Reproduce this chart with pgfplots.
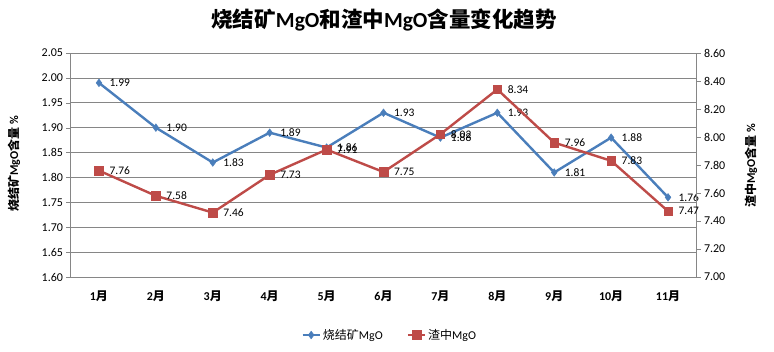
\documentclass[border=0pt]{standalone}
\usepackage{pgfplots}
\pgfplotsset{compat=1.18}
\usepackage{fontspec}
\setmainfont{Carlito}
\newfontfamily\cjk{Noto Sans CJK SC}
\definecolor{sblue}{HTML}{4A7EBB}
\definecolor{sred}{HTML}{BE4B48}
\definecolor{gridc}{HTML}{868686}
\pgfplotstableread{
x y
1 1.99
2 1.90
3 1.83
4 1.89
5 1.86
6 1.93
7 1.88
8 1.93
9 1.81
10 1.88
11 1.76
}\sinter
\pgfplotstableread{
x y
1 7.76
2 7.58
3 7.46
4 7.73
5 7.91
6 7.75
7 8.02
8 8.34
9 7.96
10 7.83
11 7.47
}\slag
\begin{document}
\begin{tikzpicture}[x=1pt,y=1pt]
\useasboundingbox (-70.5,-74) rectangle (703.5,277);
\pgfplotsset{
  base/.style={
    scale only axis, width=626pt, height=224pt,
    at={(0,0)}, anchor=south west,
    xmin=0.5, xmax=11.5,
    /pgf/number format/assume math mode=true,
    ticklabel style={font=\fontsize{12}{14}\selectfont, text=black},
    axis line style={gridc},
    major tick style={gridc},
    tick align=outside,
    major tick length=4pt,
    nodes near coords={\pgfmathprintnumber[fixed,precision=2,fixed zerofill]{\pgfplotspointmeta}},
    nodes near coords style={anchor=west, xshift=7pt, font=\fontsize{11.5}{13}\selectfont, text=black},
    point meta=y,
  }
}
\begin{axis}[base,
  ymin=1.6, ymax=2.05,
  ytick={1.60,1.65,1.70,1.75,1.80,1.85,1.90,1.95,2.00,2.05},
  yticklabel style={/pgf/number format/.cd,fixed,precision=2,fixed zerofill},
  axis y line*=left,
  axis x line*=bottom,
  ymajorgrids, grid style={gridc, line width=0.6pt},
  xtick={1,...,11},
  xticklabels={1{\cjk 月},2{\cjk 月},3{\cjk 月},4{\cjk 月},5{\cjk 月},6{\cjk 月},7{\cjk 月},8{\cjk 月},9{\cjk 月},10{\cjk 月},11{\cjk 月}},
  xticklabel style={font=\fontsize{12}{14}\selectfont\bfseries, yshift=-6pt},
  x tick style={draw=none},
  legend style={at={(0.51,-0.259)}, anchor=center, draw=none, legend columns=2,
    font=\fontsize{12}{14}\selectfont, /tikz/every even column/.append style={column sep=22pt}},
  legend cell align=left,
]
\addplot[sblue, line width=2.4pt, mark=diamond*, mark size=3.8pt, mark options={fill=sblue, draw=sblue, line width=0.5pt}] table[x=x,y=y] {\sinter};
\addlegendentry{{\cjk 烧结矿}MgO}
\addlegendimage{sred, line width=2.4pt, mark=square*, mark size=4.3pt, mark options={fill=sred, draw=sred, line width=0.5pt}}
\addlegendentry{{\cjk 渣中}MgO}
\end{axis}
\begin{axis}[base,
  ymin=7.0, ymax=8.6,
  ytick={7.0,7.2,7.4,7.6,7.8,8.0,8.2,8.4,8.6},
  yticklabel style={/pgf/number format/.cd,fixed,precision=2,fixed zerofill},
  axis y line*=right,
  axis x line=none,
]
\addplot[sred, line width=2.4pt, mark=square*, mark size=4.3pt, mark options={fill=sred, draw=sred, line width=0.5pt}] table[x=x,y=y] {\slag};
\end{axis}
\node[font=\fontsize{21.5}{24}\selectfont\bfseries] at (313.5,257) {{\cjk 烧结矿}MgO{\cjk 和渣中}MgO{\cjk 含量变化趋势}};
\node[rotate=90, font=\fontsize{12}{14}\selectfont\bfseries] at (-56.5,113) {{\cjk 烧结矿}MgO{\cjk 含量} \%};
\node[rotate=90, font=\fontsize{12}{14}\selectfont\bfseries] at (680.5,111) {{\cjk 渣中}MgO{\cjk 含量} \%};
\end{tikzpicture}
\end{document}
